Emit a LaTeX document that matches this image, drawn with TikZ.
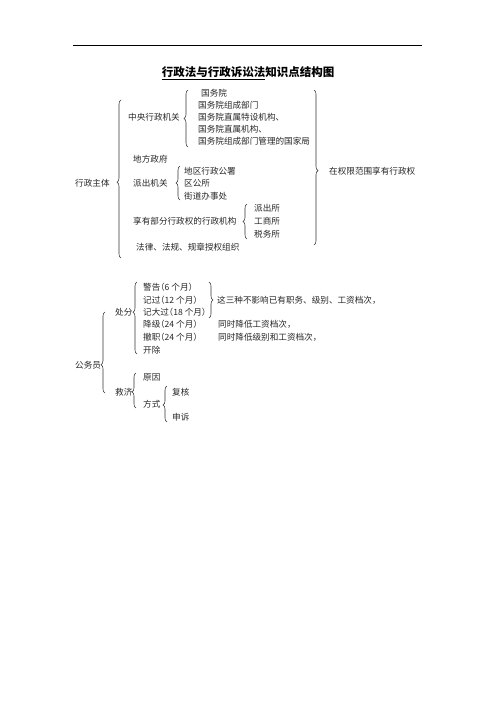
\documentclass[tikz,border=0pt]{standalone}
\usepackage{fontspec}
\newfontfamily\cjk{Noto Sans CJK SC}
\newfontfamily\cjkp[CharacterWidth=AlternateHalf]{Noto Sans CJK SC}
\newcommand\lpar{{\cjkp （}}
\newcommand\rpar{{\cjkp ）}}
\usetikzlibrary{decorations.pathreplacing}
\tikzset{
  t/.style={anchor=west,inner sep=0pt,font=\cjk\fontsize{8.6}{10}\selectfont,text=black!85},
  br/.style={decorate,decoration={brace,amplitude=4pt,aspect=#1},line width=0.55pt,draw=black!80},
  br/.default=0.5
}
\begin{document}
\begin{tikzpicture}[x=1pt,y=-1pt]
\useasboundingbox (0,0) rectangle (496,702);
\coordinate (l1) at (73,45);
\coordinate (l2) at (422,45);
\draw[line width=0.8pt] (l1) -- (l2);
\node[inner sep=0pt,font=\cjk\bfseries\fontsize{11.5}{12}\selectfont] (title) at (248,73) {\underline{行政法与行政诉讼法}知识点结构图};

% part 1
\node[t] (t1) at (201,93) {国务院};
\node[t] (t2) at (198,105) {国务院组成部门};
\node[t] (t3) at (198,117) {国务院直属特设机构、};
\node[t] (t4) at (198,129) {国务院直属机构、};
\node[t] (t5) at (198,141) {国务院组成部门管理的国家局};
\node[t] (zy) at (128,117) {中央行政机关};
\node[t] (df) at (133,159) {地方政府};
\node[t] (dq) at (184,171) {地区行政公署};
\node[t] (qg) at (184,183) {区公所};
\node[t] (jd) at (184,196) {街道办事处};
\node[t] (pc) at (133,183) {派出机关};
\node[t] (xz) at (75,183) {行政主体};
\node[t] (pcs) at (254,208) {派出所};
\node[t] (gs) at (254,221) {工商所};
\node[t] (sw) at (254,234) {税务所};
\node[t] (xy) at (133,221) {享有部分行政权的行政机构};
\node[t] (fl) at (136,247) {法律、法规、规章授权组织};
\node[t] (zq) at (329,171) {在权限范围享有行政权};

\draw[br=0.48] (121,258) -- (121,100);
\draw[br=0.5] (188,147) -- (188,90);
\draw[br=0.5] (180,200) -- (180,166);
\draw[br=0.5] (247,239) -- (247,204);
\draw[br=0.52] (314,90) -- (314,245);

% part 2
\node[t] (jg) at (143,287) {警告\lpar 6 个月\rpar};
\node[t] (jgo) at (143,300) {记过\lpar 12 个月\rpar};
\node[t] (jdg) at (143,312) {记大过\lpar 18 个月\rpar};
\node[t] (jj) at (143,324) {降级\lpar 24 个月\rpar};
\node[t] (cz) at (143,337) {撤职\lpar 24 个月\rpar};
\node[t] (kc) at (143,350) {开除};
\node[t] (ts1) at (218,324) {同时降低工资档次，};
\node[t] (ts2) at (218,337) {同时降低级别和工资档次，};
\node[t] (zsz) at (217,300) {这三种不影响已有职务、级别、工资档次，};
\node[t] (cf) at (115,312) {处分};
\node[t] (gwy) at (75,365) {公务员};
\node[t] (yy) at (143,377) {原因};
\node[t] (fs) at (143,404) {方式};
\node[t] (jj2) at (115,392) {救济};
\node[t] (fh) at (172,392) {复核};
\node[t] (ss) at (172,417) {申诉};

\draw[br=0.58] (137,354) -- (137,282);
\draw[br=0.5] (209,282) -- (209,318);
\draw[br=0.35] (105,393) -- (105,312);
\draw[br=0.46] (136,408) -- (136,373);
\draw[br=0.47] (167,422) -- (167,386);
\end{tikzpicture}
\end{document}
